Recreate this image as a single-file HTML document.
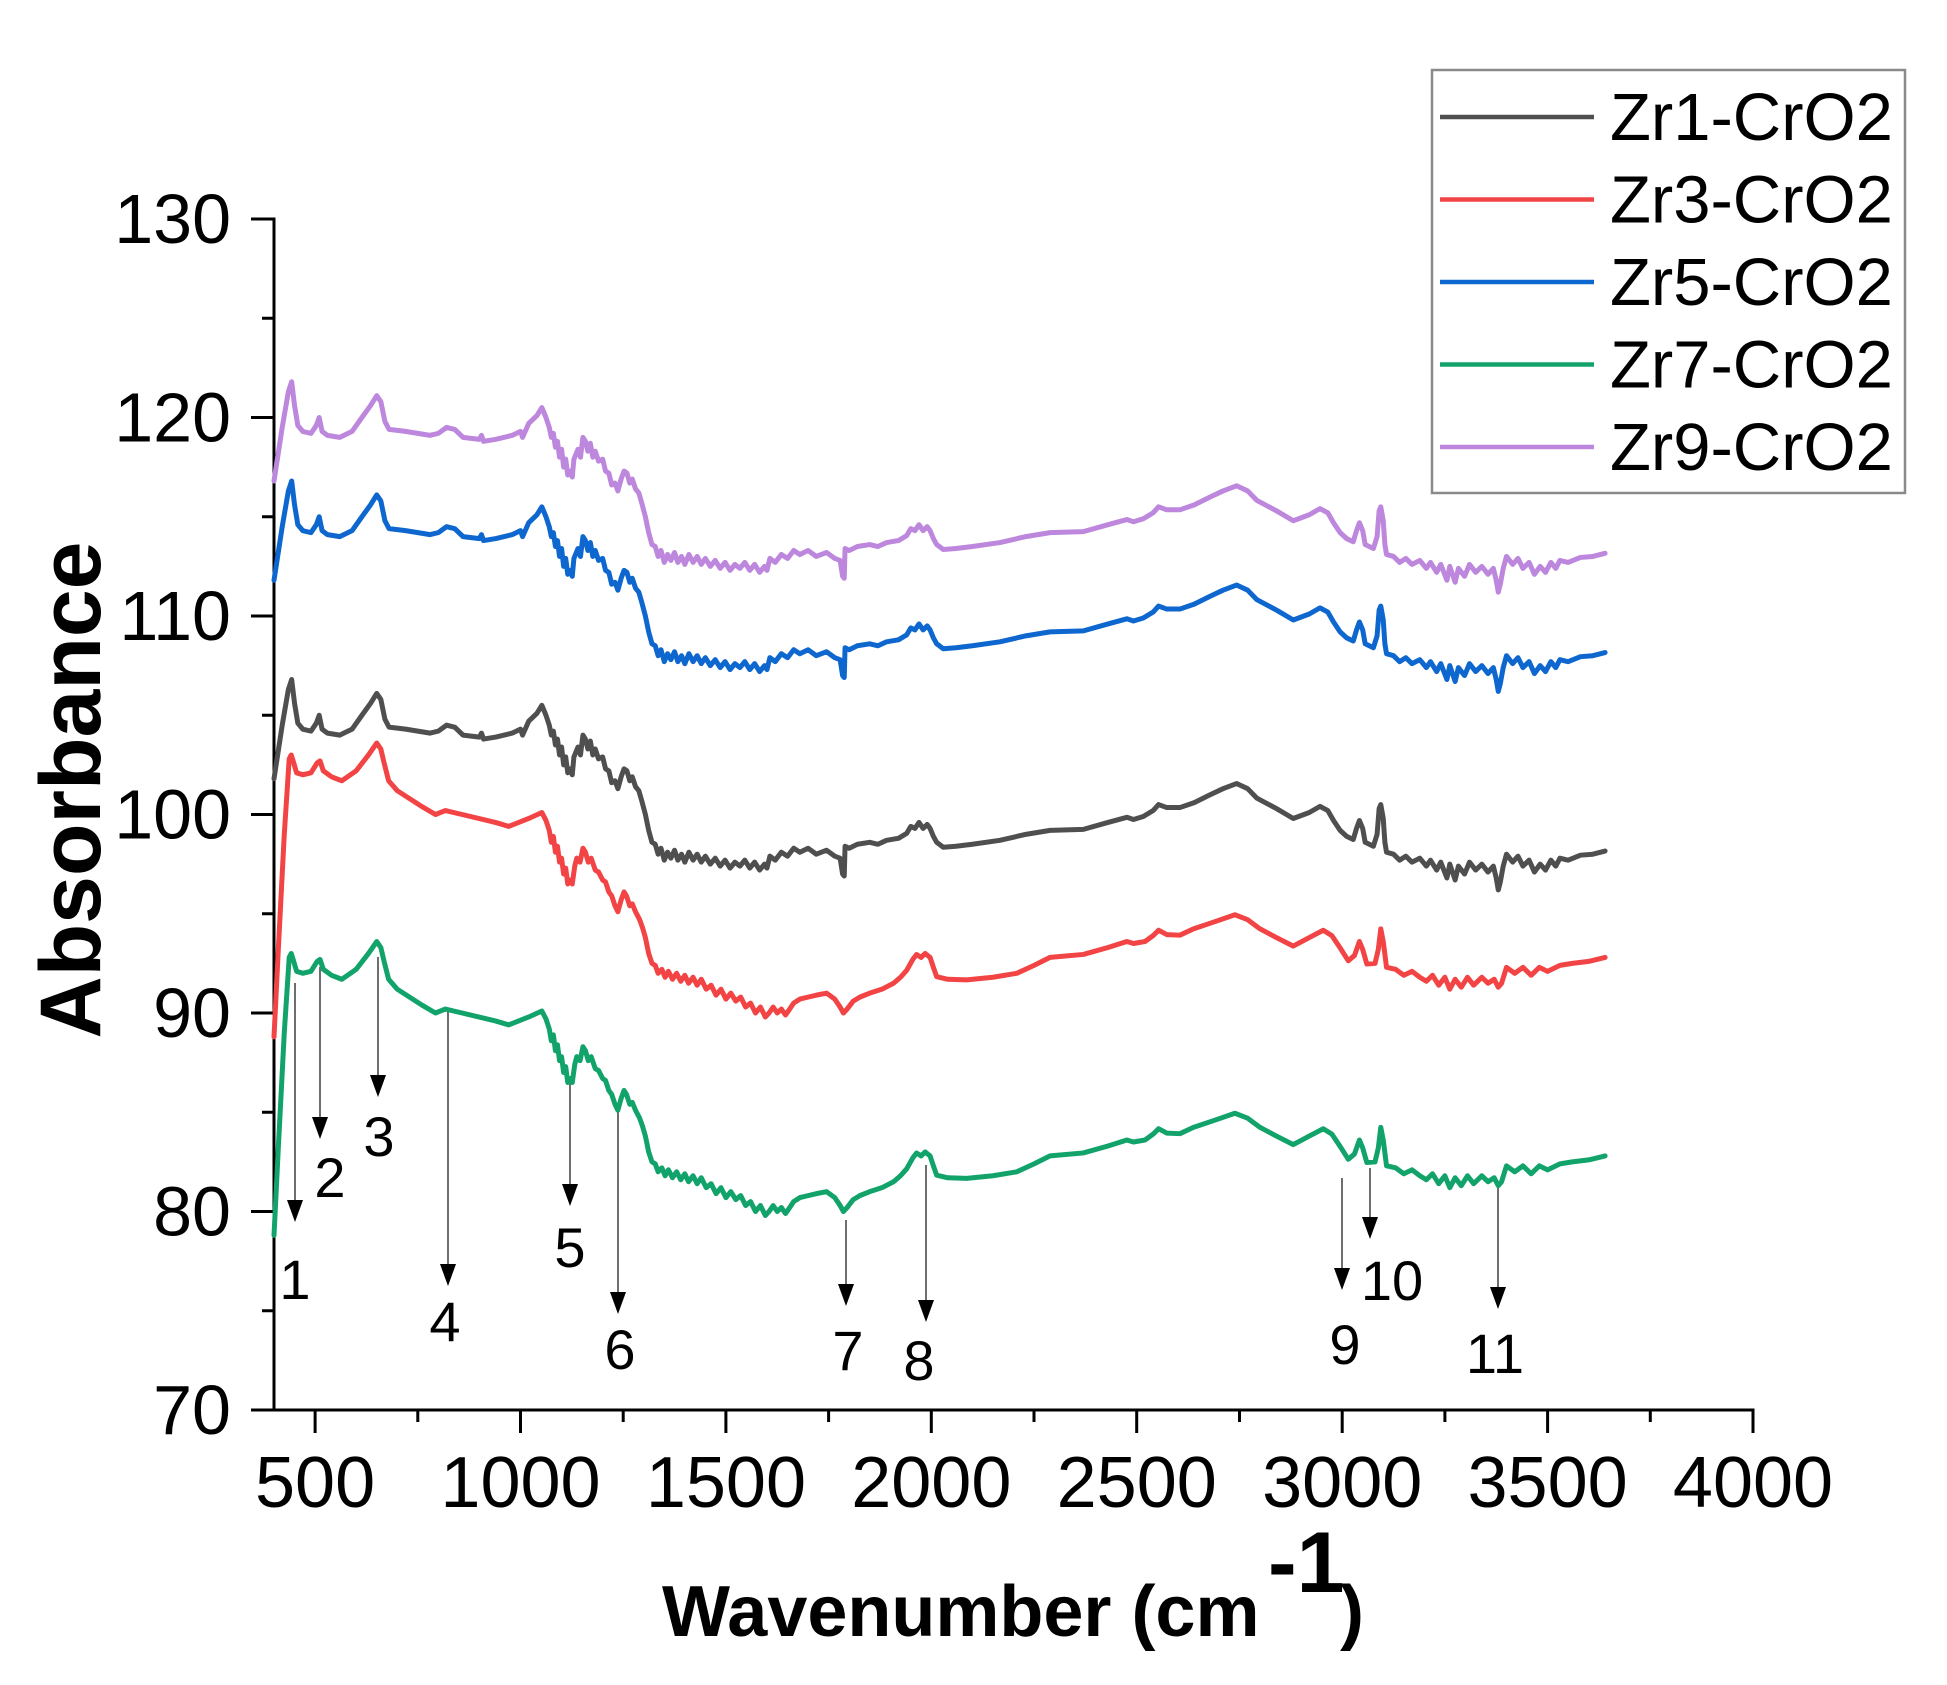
<!DOCTYPE html>
<html>
<head>
<meta charset="utf-8">
<style>
  html, body { margin:0; padding:0; background:#fff; }
  svg { display:block; }
  text { font-family: "Liberation Sans", Arial, sans-serif; fill:#000; }
</style>
</head>
<body>
<svg xmlns="http://www.w3.org/2000/svg" xmlns:xlink="http://www.w3.org/1999/xlink" width="1947" height="1685" viewBox="0 0 1947 1685">
  <rect x="0" y="0" width="1947" height="1685" fill="#fff"/>

  <defs>
    <path id="blk" vector-effect="non-scaling-stroke" d="M400,101.8 L420,104.5 L435,106.3 L443,106.8 L450,105.6 L458,104.6 L470,104.3 L490,104.2 L503,104.6 L510,105.0 L517,104.3 L530,104.1 L560,104.0 L590,104.3 L614,105.0 L635,105.6 L650,106.1 L660,105.8 L670,104.8 L680,104.4 L720,104.3 L780,104.1 L800,104.2 L820,104.5 L840,104.4 L860,104.0 L900,103.9 L905,104.1 L910,103.8 L940,103.9 L980,104.1 L1000,104.3 L1005,104.0 L1020,104.7 L1040,105.1 L1052,105.5 L1062,105.0 L1070,104.5 L1075,104.0 L1080,104.2 L1085,103.5 L1090,103.8 L1095,103.0 L1100,103.4 L1105,102.5 L1110,102.9 L1115,102.1 L1121,102.3 L1126,102.0 L1130,102.9 L1140,103.4 L1146,103.0 L1152,104.0 L1158,103.8 L1164,103.3 L1170,103.7 L1176,103.0 L1182,103.3 L1190,102.8 L1200,102.9 L1207,102.3 L1215,102.2 L1222,101.6 L1230,101.7 L1237,101.3 L1245,101.9 L1252,102.3 L1259,102.2 L1266,101.7 L1272,101.9 L1280,101.4 L1288,101.2 L1295,100.7 L1304,100.0 L1312,99.2 L1320,98.6 L1328,98.5 L1335,98.0 L1342,98.3 L1350,97.7 L1358,98.1 L1366,97.8 L1375,98.2 L1383,97.7 L1392,98.0 L1400,97.6 L1410,98.1 L1420,97.7 L1430,98.0 L1440,97.6 L1450,97.9 L1462,97.5 L1474,97.8 L1486,97.4 L1498,97.7 L1510,97.3 L1522,97.6 L1534,97.4 L1546,97.7 L1558,97.3 L1570,97.6 L1582,97.2 L1594,97.5 L1600,97.3 L1607,97.9 L1620,97.7 L1635,98.1 L1650,97.9 L1665,98.3 L1680,98.1 L1700,98.3 L1720,98.0 L1745,98.2 L1765,97.9 L1778,97.8 L1784,97.0 L1788,96.9 L1790,98.4 L1800,98.3 L1820,98.5 L1850,98.6 L1870,98.5 L1891,98.7 L1920,98.8 L1940,99.05 L1950,99.4 L1960,99.3 L1970,99.6 L1980,99.3 L1990,99.5 L1997,99.3 L2005,98.9 L2013,98.6 L2029,98.35 L2060,98.4 L2100,98.5 L2167,98.7 L2230,99.0 L2289,99.2 L2370,99.25 L2430,99.6 L2476,99.86 L2492,99.75 L2516,99.9 L2540,100.2 L2553,100.5 L2573,100.35 L2605,100.35 L2640,100.6 L2678,100.99 L2710,101.3 L2743,101.56 L2770,101.3 L2792,100.83 L2840,100.3 L2881,99.8 L2920,100.1 L2946,100.41 L2965,100.2 L2979,99.7 L2995,99.2 L3011,98.9 L3027,98.74 L3035,99.3 L3042,99.7 L3050,99.3 L3056,98.6 L3076,98.4 L3085,99.0 L3090,100.3 L3094,100.5 L3100,99.8 L3104,98.6 L3108,98.1 L3125,98.0 L3140,97.7 L3155,97.9 L3170,97.6 L3189,97.8 L3205,97.4 L3215,97.7 L3230,97.2 L3240,97.6 L3255,96.8 L3262,97.5 L3275,96.7 L3283,97.4 L3298,97.0 L3310,97.6 L3325,97.2 L3340,97.5 L3355,97.1 L3368,97.4 L3375,96.8 L3380,96.2 L3385,96.6 L3392,97.4 L3400,98.0 L3415,97.6 L3428,97.9 L3440,97.4 L3455,97.7 L3468,97.1 L3482,97.5 L3495,97.2 L3508,97.7 L3520,97.4 L3530,97.8 L3550,97.7 L3580,97.95 L3610,98.0 L3640,98.16"/>
    <path id="red" vector-effect="non-scaling-stroke" d="M400,88.8 L410,93 L425,99 L437,102.8 L442,103.0 L448,102.6 L455,102.1 L470,102.0 L490,102.1 L505,102.6 L512,102.7 L520,102.2 L540,101.9 L565,101.7 L600,102.2 L630,103.0 L650,103.6 L660,103.3 L668,102.6 L679,101.7 L700,101.2 L760,100.4 L793,100.0 L817,100.2 L858,100.0 L939,99.6 L971,99.4 L1020,99.8 L1052,100.1 L1062,99.7 L1070,99.2 L1075,98.6 L1080,98.9 L1085,98.1 L1090,98.4 L1095,97.6 L1100,97.8 L1105,97.0 L1110,97.3 L1115,96.5 L1121,96.7 L1126,96.5 L1132,97.4 L1137,97.8 L1145,97.6 L1152,98.3 L1158,98.1 L1165,97.6 L1172,97.8 L1182,97.2 L1190,97.1 L1200,96.7 L1207,96.6 L1215,96.1 L1222,95.9 L1230,95.4 L1237,95.1 L1245,95.7 L1252,96.1 L1258,95.9 L1266,95.4 L1272,95.5 L1280,95.1 L1290,94.7 L1297,94.3 L1304,93.8 L1312,93.0 L1320,92.5 L1328,92.4 L1335,92.0 L1344,92.2 L1352,91.8 L1360,92.1 L1370,91.7 L1380,92.0 L1390,91.6 L1400,91.9 L1409,91.5 L1420,91.8 L1430,91.4 L1440,91.7 L1452,91.2 L1464,91.4 L1476,90.9 L1488,91.2 L1500,90.7 L1512,91.0 L1524,90.6 L1536,90.8 L1548,90.3 L1560,90.5 L1572,90.0 L1584,90.3 L1596,89.8 L1605,90.0 L1615,90.3 L1625,90.0 L1635,90.2 L1645,89.9 L1652,90.1 L1665,90.5 L1680,90.7 L1700,90.8 L1720,90.9 L1745,91.0 L1765,90.7 L1778,90.3 L1786,90.0 L1795,90.2 L1810,90.6 L1826,90.8 L1850,91.0 L1880,91.2 L1908,91.5 L1925,91.8 L1940,92.15 L1955,92.7 L1964,92.95 L1975,92.8 L1985,93.0 L1997,92.8 L2005,92.3 L2013,91.83 L2040,91.7 L2086,91.67 L2150,91.8 L2208,92.0 L2250,92.4 L2289,92.8 L2370,92.95 L2430,93.3 L2476,93.6 L2492,93.5 L2520,93.6 L2540,93.9 L2553,94.17 L2573,93.95 L2605,93.92 L2638,94.24 L2690,94.6 L2739,94.95 L2770,94.7 L2800,94.24 L2840,93.8 L2881,93.37 L2920,93.8 L2954,94.17 L2975,93.9 L2995,93.28 L3015,92.63 L3030,92.9 L3042,93.6 L3050,93.2 L3060,92.47 L3080,92.5 L3088,93.2 L3094,94.24 L3100,93.6 L3108,92.3 L3130,92.2 L3150,91.9 L3170,92.1 L3189,91.8 L3205,91.6 L3220,91.9 L3235,91.4 L3250,91.8 L3262,91.2 L3275,91.7 L3290,91.3 L3305,91.8 L3320,91.4 L3340,91.8 L3355,91.5 L3370,91.7 L3380,91.3 L3388,91.5 L3400,92.3 L3420,92.0 L3440,92.3 L3460,91.9 L3480,92.3 L3500,92.1 L3530,92.4 L3560,92.5 L3600,92.6 L3640,92.8"/>
  </defs>

  <!-- Axes -->
  <g stroke="#000" stroke-width="3" fill="none">
    <line x1="274" y1="217.5" x2="274" y2="1411.5"/>
    <line x1="251" y1="1410" x2="1754.5" y2="1410"/>
    <line x1="251" y1="219" x2="274" y2="219"/>
    <line x1="251" y1="417.5" x2="274" y2="417.5"/>
    <line x1="251" y1="616" x2="274" y2="616"/>
    <line x1="251" y1="814.5" x2="274" y2="814.5"/>
    <line x1="251" y1="1013" x2="274" y2="1013"/>
    <line x1="251" y1="1211.5" x2="274" y2="1211.5"/>
    <line x1="262" y1="318.25" x2="274" y2="318.25"/>
    <line x1="262" y1="516.75" x2="274" y2="516.75"/>
    <line x1="262" y1="715.25" x2="274" y2="715.25"/>
    <line x1="262" y1="913.75" x2="274" y2="913.75"/>
    <line x1="262" y1="1112.25" x2="274" y2="1112.25"/>
    <line x1="262" y1="1310.75" x2="274" y2="1310.75"/>
    <line x1="315.1" y1="1410" x2="315.1" y2="1433"/>
    <line x1="520.5" y1="1410" x2="520.5" y2="1433"/>
    <line x1="725.9" y1="1410" x2="725.9" y2="1433"/>
    <line x1="931.3" y1="1410" x2="931.3" y2="1433"/>
    <line x1="1136.7" y1="1410" x2="1136.7" y2="1433"/>
    <line x1="1342.2" y1="1410" x2="1342.2" y2="1433"/>
    <line x1="1547.6" y1="1410" x2="1547.6" y2="1433"/>
    <line x1="1753" y1="1410" x2="1753" y2="1433"/>
    <line x1="417.8" y1="1410" x2="417.8" y2="1422"/>
    <line x1="623.2" y1="1410" x2="623.2" y2="1422"/>
    <line x1="828.6" y1="1410" x2="828.6" y2="1422"/>
    <line x1="1034" y1="1410" x2="1034" y2="1422"/>
    <line x1="1239.5" y1="1410" x2="1239.5" y2="1422"/>
    <line x1="1444.9" y1="1410" x2="1444.9" y2="1422"/>
    <line x1="1650.3" y1="1410" x2="1650.3" y2="1422"/>
  </g>

  <!-- Y tick labels -->
  <g font-size="70" text-anchor="end">
    <text x="231" y="243">130</text>
    <text x="231" y="441.5">120</text>
    <text x="231" y="640">110</text>
    <text x="231" y="838.5">100</text>
    <text x="231" y="1037">90</text>
    <text x="231" y="1235.5">80</text>
    <text x="231" y="1434">70</text>
  </g>

  <!-- X tick labels -->
  <g font-size="72" text-anchor="middle">
    <text x="315.1" y="1507">500</text>
    <text x="520.5" y="1507">1000</text>
    <text x="725.9" y="1507">1500</text>
    <text x="931.3" y="1507">2000</text>
    <text x="1136.7" y="1507">2500</text>
    <text x="1342.2" y="1507">3000</text>
    <text x="1547.6" y="1507">3500</text>
    <text x="1753" y="1507">4000</text>
  </g>

  <!-- Axis titles -->
  <text transform="translate(100,790) rotate(-90)" text-anchor="middle" font-size="86" font-weight="bold">Absorbance</text>
  <text x="662" y="1636" font-size="72" font-weight="bold">Wavenumber (cm</text>
  <text x="1268" y="1592" font-size="86" font-weight="bold">-1</text>
  <text x="1340" y="1636" font-size="72" font-weight="bold">)</text>

  <!-- Arrows -->
  <g stroke="#6e6e6e" stroke-width="2" fill="none">
    <line x1="295" y1="983" x2="295" y2="1203"/>
    <line x1="320" y1="967" x2="320" y2="1120"/>
    <line x1="378" y1="957" x2="378" y2="1078"/>
    <line x1="448" y1="1008" x2="448" y2="1267"/>
    <line x1="570" y1="1082" x2="570" y2="1187"/>
    <line x1="618" y1="1110" x2="618" y2="1295"/>
    <line x1="846" y1="1220" x2="846" y2="1287"/>
    <line x1="926" y1="1165" x2="926" y2="1303"/>
    <line x1="1342" y1="1178" x2="1342" y2="1271"/>
    <line x1="1370" y1="1168" x2="1370" y2="1220"/>
    <line x1="1498" y1="1184" x2="1498" y2="1290"/>
  </g>
  <g fill="#000">
    <polygon points="287,1200 303,1200 295,1222"/>
    <polygon points="312,1117 328,1117 320,1139"/>
    <polygon points="370,1075 386,1075 378,1097"/>
    <polygon points="440,1264 456,1264 448,1286"/>
    <polygon points="562,1184 578,1184 570,1206"/>
    <polygon points="610,1292 626,1292 618,1314"/>
    <polygon points="838,1284 854,1284 846,1306"/>
    <polygon points="918,1300 934,1300 926,1322"/>
    <polygon points="1334,1268 1350,1268 1342,1290"/>
    <polygon points="1362,1217 1378,1217 1370,1239"/>
    <polygon points="1490,1287 1506,1287 1498,1309"/>
  </g>
  <g font-size="56" text-anchor="middle">
    <text x="295" y="1299">1</text>
    <text x="330" y="1197">2</text>
    <text x="379" y="1156">3</text>
    <text x="445" y="1341">4</text>
    <text x="570" y="1267">5</text>
    <text x="620" y="1369">6</text>
    <text x="848" y="1370">7</text>
    <text x="919" y="1380">8</text>
    <text x="1345" y="1364">9</text>
    <text x="1392" y="1300">10</text>
    <text x="1495" y="1373">11</text>
  </g>

  <!-- Curves (data space) -->
  <g transform="matrix(0.41083 0 0 -19.85 109.668 2799.5)" fill="none" stroke-width="5" stroke-linejoin="round" stroke-linecap="round">
    <use xlink:href="#blk" href="#blk" stroke="#4f4f4f"/>
    <use xlink:href="#red" href="#red" stroke="#f24444"/>
    <use xlink:href="#blk" href="#blk" stroke="#0d67cf" transform="translate(0,10)"/>
    <use xlink:href="#red" href="#red" stroke="#12a36b" transform="translate(0,-10)"/>
    <use xlink:href="#blk" href="#blk" stroke="#bd87dd" transform="translate(0,15)"/>
  </g>

  <!-- Legend -->
  <rect x="1432" y="70" width="473" height="423" fill="#fff" stroke="#8a8a8a" stroke-width="2.5"/>
  <g stroke-width="4.5">
    <line x1="1440" y1="117" x2="1594" y2="117" stroke="#4f4f4f"/>
    <line x1="1440" y1="199.5" x2="1594" y2="199.5" stroke="#f24444"/>
    <line x1="1440" y1="282" x2="1594" y2="282" stroke="#0d67cf"/>
    <line x1="1440" y1="364.5" x2="1594" y2="364.5" stroke="#12a36b"/>
    <line x1="1440" y1="447" x2="1594" y2="447" stroke="#bd87dd"/>
  </g>
  <g font-size="67">
    <text x="1610" y="140">Zr1-CrO2</text>
    <text x="1610" y="222.5">Zr3-CrO2</text>
    <text x="1610" y="305">Zr5-CrO2</text>
    <text x="1610" y="387.5">Zr7-CrO2</text>
    <text x="1610" y="470">Zr9-CrO2</text>
  </g>
</svg>
</body>
</html>
